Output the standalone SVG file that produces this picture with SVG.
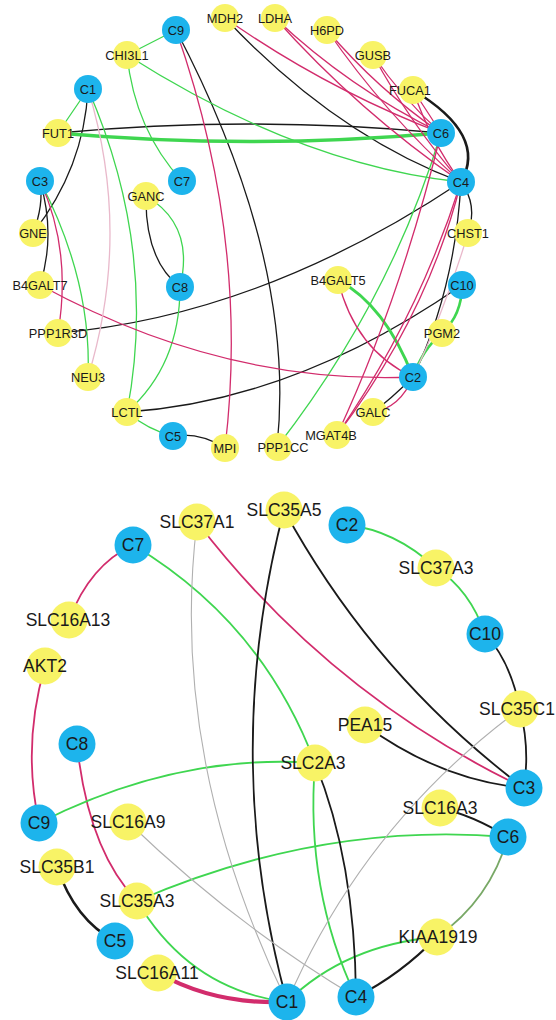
<svg xmlns="http://www.w3.org/2000/svg" width="556" height="1020" viewBox="0 0 556 1020">
<style>
.e{fill:none;stroke-linecap:round}
.g{stroke:#3fd650}
.m{stroke:#d22c6c}
.k{stroke:#1a1a1a}
.gr{stroke:#b0b0b0}
.lp{stroke:#e9b9cb}
.og{stroke:#78a866}
.t1{stroke-width:1.3}
.t2{stroke-width:1.8}
.b{fill:#1db4ec}
.y{fill:#f8f366}
.l1{font-family:"Liberation Sans",Arial,sans-serif;font-size:12.8px;fill:#1a1a1a;text-anchor:middle}
.l2{font-family:"Liberation Sans",Arial,sans-serif;font-size:17.5px;fill:#1a1a1a;text-anchor:middle}
</style>
<rect width="556" height="1020" fill="#ffffff"/>
<g id="connectors">
<path class="e k t1" d="M58,133 Q250,115 441,133"/>
<path class="e k t1" d="M88,89 Q84,168 33,233"/>
<path class="e k t1" d="M40,181 Q44,205 33,233"/>
<path class="e k t1" d="M40,181 Q56,235 40,285"/>
<path class="e k t1" d="M146,196 Q145,260 180,287"/>
<path class="e k t1" d="M173,436 Q200,432 225,448"/>
<path class="e k t1" d="M127,412 Q295,401 462,285"/>
<path class="e k t1" d="M58,333 Q260,316 461,182"/>
<path class="e k t1" d="M176,30 Q297,261 277,447"/>
<path class="e k t1" d="M225,18 Q335,135 461,182"/>
<path class="e k t1" d="M461,182 Q478,205 468,233"/>
<path class="e k t1" d="M461,182 Q455,290 413,377"/>
<path class="e k t1" d="M373,412 Q390,400 413,377"/>
<path class="e k" stroke-width="2.6" d="M413,90 Q488,135 461,182"/>
<path class="e g t1" d="M176,30 L127,55"/>
<path class="e g t1" d="M127,55 Q300,165 461,182"/>
<path class="e g t1" d="M127,55 Q135,130 182,181"/>
<path class="e g t1" d="M88,89 L58,133"/>
<path class="e g t1" d="M40,181 Q92,281 88,377"/>
<path class="e g t1" d="M88,89 Q158,250 127,412"/>
<path class="e g t1" d="M180,287 Q180,365 127,412"/>
<path class="e g t1" d="M146,196 Q195,225 180,287"/>
<path class="e g t1" d="M127,412 Q148,430 173,436"/>
<path class="e g t1" d="M441,133 Q391,300 277,447"/>
<path class="e g" stroke-width="3.6" d="M58,133 Q250,150 441,133"/>
<path class="e g" stroke-width="3" d="M338,280 Q385,305 413,377"/>
<path class="e g" stroke-width="2.6" d="M462,285 Q462,315 442,333"/>
<path class="e g" stroke-width="2.6" d="M442,333 Q422,350 413,377"/>
<path class="e m t1" d="M40,181 Q72,250 58,333"/>
<path class="e m t1" d="M40,285 Q223,385 413,377"/>
<path class="e m t1" d="M176,30 Q250,241 225,448"/>
<path class="e m t1" d="M225,18 Q326,89 441,133"/>
<path class="e m t1" d="M275,18 Q349,88 441,133"/>
<path class="e m t1" d="M275,18 Q358,111 461,182"/>
<path class="e m t1" d="M327,30 Q377,89 441,133"/>
<path class="e m t1" d="M327,30 Q385,114 461,182"/>
<path class="e m t1" d="M373,55 Q402,98 441,133"/>
<path class="e m t1" d="M373,55 Q410,123 461,182"/>
<path class="e m t1" d="M413,90 Q425,108 441,133"/>
<path class="e m t1" d="M413,90 Q430,140 461,182"/>
<path class="e m t1" d="M441,133 Q400,300 337,435"/>
<path class="e m t1" d="M461,182 Q418,318 337,435"/>
<path class="e m t1" d="M461,182 Q428,315 337,435"/>
<path class="e m t1" d="M338,280 Q355,350 413,377"/>
<path class="e m t1" d="M373,412 Q400,408 413,377"/>
<path class="e lp t1" d="M88,89 Q132,233 88,377"/>
<path class="e lp t1" d="M468,233 Q445,310 413,377"/>
<path class="e m t2" d="M133,545 Q90,565 69,620"/>
<path class="e m t2" d="M45,666 Q22,745 39,823"/>
<path class="e m t2" d="M77,744 Q88,850 137,901"/>
<path class="e m t2" d="M197,522 Q329,694 524,788"/>
<path class="e m" stroke="#e0145e" stroke-width="4.2" d="M158,973 Q215,1005 287,1002"/>
<path class="e g t2" d="M39,823 Q177,753 315,763"/>
<path class="e g t2" d="M137,901 Q322,821 508,837"/>
<path class="e g t2" d="M137,901 Q190,990 287,1002"/>
<path class="e g t2" d="M133,545 Q262,622 315,763"/>
<path class="e g t2" d="M347,525 Q395,530 436,568"/>
<path class="e g t2" d="M436,568 Q470,590 485,634"/>
<path class="e g t2" d="M315,763 Q305,890 356,997"/>
<path class="e g t2" d="M287,1002 Q345,945 437,937"/>
<path class="e og t2" d="M508,837 Q490,900 437,937"/>
<path class="e k" stroke-width="2.4" d="M57,867 Q75,920 115,941"/>
<path class="e k t2" d="M284,510 Q220,756 287,1002"/>
<path class="e k t2" d="M284,510 Q374,675 524,788"/>
<path class="e k t2" d="M365,725 Q440,780 524,788"/>
<path class="e k t2" d="M520,709 Q530,748 524,788"/>
<path class="e k t2" d="M485,634 Q510,660 520,709"/>
<path class="e k t2" d="M315,763 Q355,860 356,997"/>
<path class="e k t2" d="M440,808 Q472,815 508,837"/>
<path class="e k" stroke-width="2.2" d="M437,937 Q400,975 356,997"/>
<path class="e gr" stroke-width="1.1" d="M128,822 Q235,925 356,997"/>
<path class="e gr" stroke-width="1.1" d="M197,522 Q168,758 287,1002"/>
<path class="e gr" stroke-width="1.1" d="M520,709 Q364,824 287,1002"/>
</g>
<g id="t-C9"><circle class="b" cx="176" cy="30" r="14"/><text class="l1" x="176" y="34.5">C9</text></g>
<g id="t-MDH2"><circle class="y" cx="225" cy="18" r="14"/><text class="l1" x="225" y="22.5">MDH2</text></g>
<g id="t-LDHA"><circle class="y" cx="275" cy="18" r="14"/><text class="l1" x="275" y="22.5">LDHA</text></g>
<g id="t-H6PD"><circle class="y" cx="327" cy="30" r="14"/><text class="l1" x="327" y="34.5">H6PD</text></g>
<g id="t-GUSB"><circle class="y" cx="373" cy="55" r="14"/><text class="l1" x="373" y="59.5">GUSB</text></g>
<g id="t-FUCA1"><circle class="y" cx="413" cy="90" r="14"/><text class="l1" x="410" y="94.5">FUCA1</text></g>
<g id="t-C6"><circle class="b" cx="441" cy="133" r="14"/><text class="l1" x="441" y="137.5">C6</text></g>
<g id="t-C4"><circle class="b" cx="461" cy="182" r="14"/><text class="l1" x="461" y="186.5">C4</text></g>
<g id="t-CHST1"><circle class="y" cx="468" cy="233" r="14"/><text class="l1" x="468" y="237.5">CHST1</text></g>
<g id="t-C10"><circle class="b" cx="462" cy="285" r="14"/><text class="l1" x="462" y="289.5">C10</text></g>
<g id="t-PGM2"><circle class="y" cx="442" cy="333" r="14"/><text class="l1" x="442" y="337.5">PGM2</text></g>
<g id="t-C2"><circle class="b" cx="413" cy="377" r="14"/><text class="l1" x="413" y="381.5">C2</text></g>
<g id="t-GALC"><circle class="y" cx="373" cy="412" r="14"/><text class="l1" x="373" y="416.5">GALC</text></g>
<g id="t-MGAT4B"><circle class="y" cx="337" cy="435" r="14"/><text class="l1" x="331" y="439.5">MGAT4B</text></g>
<g id="t-PPP1CC"><circle class="y" cx="278" cy="447" r="14"/><text class="l1" x="283" y="451.5">PPP1CC</text></g>
<g id="t-B4GALT5"><circle class="y" cx="338" cy="280" r="14"/><text class="l1" x="338" y="284.5">B4GALT5</text></g>
<g id="t-MPI"><circle class="y" cx="225" cy="448" r="14"/><text class="l1" x="225" y="452.5">MPI</text></g>
<g id="t-C5"><circle class="b" cx="173" cy="436" r="14"/><text class="l1" x="173" y="440.5">C5</text></g>
<g id="t-LCTL"><circle class="y" cx="127" cy="412" r="14"/><text class="l1" x="127" y="416.5">LCTL</text></g>
<g id="t-NEU3"><circle class="y" cx="88" cy="377" r="14"/><text class="l1" x="88" y="381.5">NEU3</text></g>
<g id="t-PPP1R3D"><circle class="y" cx="58" cy="333" r="14"/><text class="l1" x="58" y="337.5">PPP1R3D</text></g>
<g id="t-B4GALT7"><circle class="y" cx="40" cy="285" r="14"/><text class="l1" x="40" y="289.5">B4GALT7</text></g>
<g id="t-GNE"><circle class="y" cx="33" cy="233" r="14"/><text class="l1" x="33" y="237.5">GNE</text></g>
<g id="t-C3"><circle class="b" cx="40" cy="181" r="14"/><text class="l1" x="40" y="185.5">C3</text></g>
<g id="t-FUT1"><circle class="y" cx="58" cy="133" r="14"/><text class="l1" x="58" y="137.5">FUT1</text></g>
<g id="t-C1"><circle class="b" cx="88" cy="89" r="14"/><text class="l1" x="88" y="93.5">C1</text></g>
<g id="t-CHI3L1"><circle class="y" cx="127" cy="55" r="14"/><text class="l1" x="127" y="59.5">CHI3L1</text></g>
<g id="t-C7"><circle class="b" cx="182" cy="181" r="14"/><text class="l1" x="182" y="185.5">C7</text></g>
<g id="t-GANC"><circle class="y" cx="146" cy="196" r="14"/><text class="l1" x="146" y="200.5">GANC</text></g>
<g id="t-C8"><circle class="b" cx="180" cy="287" r="14"/><text class="l1" x="180" y="291.5">C8</text></g>
<g id="b-C7"><circle class="b" cx="133" cy="545" r="18.5"/><text class="l2" x="133" y="551.2">C7</text></g>
<g id="b-SLC37A1"><circle class="y" cx="197" cy="522" r="18.5"/><text class="l2" x="197" y="528.2">SLC37A1</text></g>
<g id="b-SLC35A5"><circle class="y" cx="284" cy="510" r="18.5"/><text class="l2" x="284" y="516.2">SLC35A5</text></g>
<g id="b-C2"><circle class="b" cx="347" cy="525" r="18.5"/><text class="l2" x="347" y="531.2">C2</text></g>
<g id="b-SLC37A3"><circle class="y" cx="436" cy="568" r="18.5"/><text class="l2" x="436" y="574.2">SLC37A3</text></g>
<g id="b-C10"><circle class="b" cx="485" cy="634" r="18.5"/><text class="l2" x="485" y="640.2">C10</text></g>
<g id="b-SLC35C1"><circle class="y" cx="520" cy="709" r="18.5"/><text class="l2" x="517" y="715.2">SLC35C1</text></g>
<g id="b-PEA15"><circle class="y" cx="365" cy="725" r="18.5"/><text class="l2" x="365" y="731.2">PEA15</text></g>
<g id="b-C3"><circle class="b" cx="524" cy="788" r="18.5"/><text class="l2" x="524" y="794.2">C3</text></g>
<g id="b-SLC16A3"><circle class="y" cx="440" cy="808" r="18.5"/><text class="l2" x="440" y="814.2">SLC16A3</text></g>
<g id="b-C6"><circle class="b" cx="508" cy="837" r="18.5"/><text class="l2" x="508" y="843.2">C6</text></g>
<g id="b-KIAA1919"><circle class="y" cx="437" cy="937" r="18.5"/><text class="l2" x="438" y="943.2">KIAA1919</text></g>
<g id="b-C4"><circle class="b" cx="356" cy="997" r="18.5"/><text class="l2" x="356" y="1003.2">C4</text></g>
<g id="b-C1"><circle class="b" cx="287" cy="1002" r="18.5"/><text class="l2" x="287" y="1008.2">C1</text></g>
<g id="b-SLC2A3"><circle class="y" cx="315" cy="763" r="18.5"/><text class="l2" x="313" y="769.2">SLC2A3</text></g>
<g id="b-SLC16A9"><circle class="y" cx="128" cy="822" r="18.5"/><text class="l2" x="128" y="828.2">SLC16A9</text></g>
<g id="b-C9"><circle class="b" cx="39" cy="823" r="18.5"/><text class="l2" x="39" y="829.2">C9</text></g>
<g id="b-SLC35B1"><circle class="y" cx="57" cy="867" r="18.5"/><text class="l2" x="57" y="873.2">SLC35B1</text></g>
<g id="b-SLC35A3"><circle class="y" cx="137" cy="901" r="18.5"/><text class="l2" x="137" y="907.2">SLC35A3</text></g>
<g id="b-C5"><circle class="b" cx="115" cy="941" r="18.5"/><text class="l2" x="115" y="947.2">C5</text></g>
<g id="b-SLC16A11"><circle class="y" cx="158" cy="973" r="18.5"/><text class="l2" x="157" y="979.2">SLC16A11</text></g>
<g id="b-C8"><circle class="b" cx="77" cy="744" r="18.5"/><text class="l2" x="77" y="750.2">C8</text></g>
<g id="b-AKT2"><circle class="y" cx="45" cy="666" r="18.5"/><text class="l2" x="45" y="672.2">AKT2</text></g>
<g id="b-SLC16A13"><circle class="y" cx="69" cy="620" r="18.5"/><text class="l2" x="68" y="626.2">SLC16A13</text></g>
</svg>
